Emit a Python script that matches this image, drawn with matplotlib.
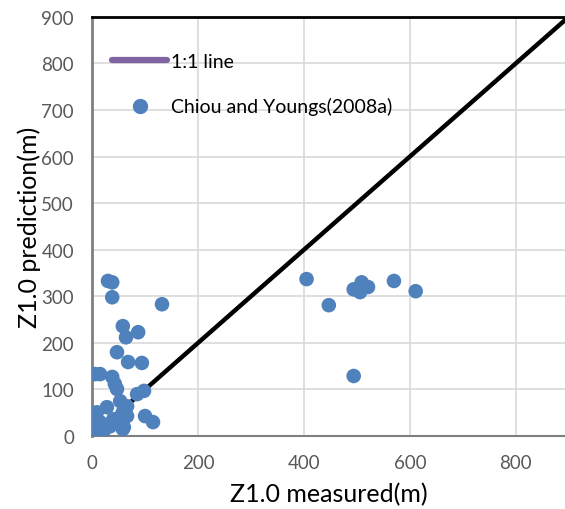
import matplotlib.pyplot as plt
from matplotlib.lines import Line2D

# measured vs predicted Z1.0 (m)
measured = [30, 38, 38, 132, 58, 64, 87, 47, 68, 94, 6, 15, 38, 43, 47, 85, 98,
            53, 66, 58, 9, 28, 100, 115, 2, 2, 21, 58, 40, 66, 34, 15, 55, 60,
            405, 447, 494, 506, 509, 521, 570, 611, 494]
predicted = [333, 330, 298, 283, 236, 212, 223, 180, 159, 157, 133, 133, 127,
             112, 101, 90, 97, 75, 64, 51, 51, 62, 43, 30, 21, 4, 9, 15, 36, 43,
             21, 30, 43, 19,
             337, 281, 315, 309, 330, 320, 333, 311, 129]
line_x = [0, 900]
line_y = [0, 900]

plt.rcParams['font.family'] = ['Lato', 'DejaVu Sans']

fig = plt.figure(figsize=(5.65, 5.1), dpi=100)
ax = fig.add_axes([0.163, 0.143, 0.837, 0.822])

ax.plot(line_x, line_y, color='black', lw=3.2, zorder=2)
ax.scatter(measured, predicted, s=110, color='#4F81BD', edgecolors='none', zorder=3)

ax.set_xlim(0, 893)
ax.set_ylim(0, 900)
ax.set_xticks(range(0, 801, 200))
ax.set_yticks(range(0, 901, 100))
ax.grid(True, color='#D9D9D9', lw=1.2)
ax.set_axisbelow(True)
ax.tick_params(length=0, labelsize=13.5, labelcolor='#595959')
ax.tick_params(axis='y', pad=13)
ax.tick_params(axis='x', pad=13)

ax.spines['right'].set_visible(False)
ax.spines['top'].set_color('black')
ax.spines['top'].set_linewidth(2)
ax.spines['left'].set_color('#7F7F7F')
ax.spines['left'].set_linewidth(2)
ax.spines['bottom'].set_color('#7F7F7F')
ax.spines['bottom'].set_linewidth(1.5)

ax.set_xlabel('Z1.0 measured(m)', fontsize=18, labelpad=8)
ax.set_ylabel('Z1.0 prediction(m)', fontsize=18, labelpad=0)

handles = [Line2D([0], [0], color='#8064A2', lw=4.5, solid_capstyle='round'),
           Line2D([0], [0], marker='o', ls='none', color='#4F81BD', markersize=10)]
ax.legend(handles, ['1:1 line', 'Chiou and Youngs(2008a)'], loc='upper left',
          bbox_to_anchor=(0.006, 0.955), frameon=False, fontsize=14,
          handlelength=2.8, handletextpad=0.2, labelspacing=1.4)

fig.savefig('out.png', dpi=100)
